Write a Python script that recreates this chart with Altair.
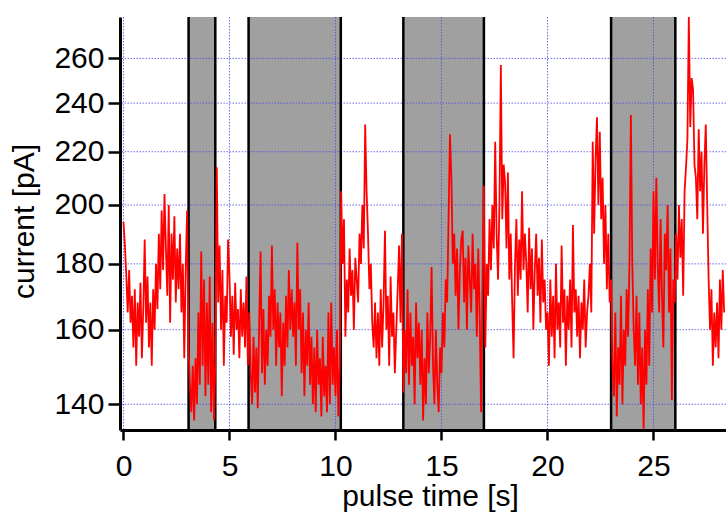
import altair as alt
import pandas as pd

# ---- data ----
# current trace in pA, sampled 15 times per second, one row per second
current_pA = [
    194, 186, 176, 165, 178, 162, 170, 155, 172, 150, 168, 158, 174, 152, 166,
    188, 162, 176, 155, 168, 150, 172, 160, 180, 166, 190, 172, 198, 178, 204,
    185, 170, 200, 162, 190, 175, 196, 168, 185, 172, 190, 165, 180, 152, 178,
    198, 155, 145, 138, 150, 136, 152, 140, 165, 145, 184, 150, 175, 142, 168,
    145, 176, 138, 162, 136, 152, 214, 168, 186, 160, 178, 150, 170, 162, 188,
    176, 158, 170, 153, 174, 160, 166, 152, 172, 158, 168, 155, 176, 150, 165,
    148, 140, 158, 143, 155, 139, 162, 184, 148, 166, 145, 160, 150, 170, 158,
    186, 160, 172, 150, 168, 155, 165, 142, 162, 150, 170, 155, 178, 160, 172,
    158, 168, 150, 187, 160, 172, 148, 165, 142, 160, 150, 168, 145, 158, 140,
    155, 138, 160, 145, 152, 137, 158, 142, 150, 138, 165, 140, 168, 145, 155,
    142, 160, 137, 150, 205, 180, 195, 158, 175, 165, 185, 170, 178, 160, 182,
    175, 168, 190, 180, 200, 185, 231, 205, 190, 172, 180, 162, 155, 168, 152,
    165, 150, 172, 155, 168, 191, 160, 170, 150, 176, 158, 165, 148, 160, 172,
    186, 162, 190, 143, 160, 148, 172, 145, 165, 150, 158, 140, 168, 152, 162,
    145, 160, 136, 152, 140, 165, 148, 158, 179, 150, 140, 160, 145, 138, 155,
    148, 165, 155, 175, 168, 195, 227, 210, 180, 190, 170, 185, 160, 178, 188,
    191, 168, 182, 160, 186, 175, 165, 190, 172, 180, 158, 185, 165, 138, 175,
    207, 155, 180, 170, 195, 178, 200, 185, 224, 190, 175, 200, 257, 195, 215,
    208, 185, 212, 175, 190, 168, 152, 180, 195, 170, 188, 175, 205, 178, 190,
    180, 165, 192, 172, 185, 160, 178, 190, 170, 182, 162, 188, 168, 175, 160,
    165, 150, 175, 158, 170, 152, 180, 160, 168, 155, 186, 162, 172, 150, 170,
    160, 175, 155, 193, 165, 172, 158, 170, 152, 168, 160, 175, 155, 165, 170,
    180, 165, 224, 190, 217, 234, 200, 228, 195, 210, 180, 200, 172, 190, 168,
    175, 150, 142, 165, 137, 155, 145, 170, 140, 160, 150, 172, 158, 180, 235,
    180, 160, 150, 170, 145, 165, 140, 155, 134, 160, 145, 172, 150, 185, 165,
    205, 175, 210, 180, 165, 195, 170, 155, 190, 178, 200, 165, 185, 141, 175,
    168, 190, 175, 200, 182, 195, 170, 205, 214, 225, 280, 230, 251, 246, 215,
    210, 195, 229, 205, 220, 190, 215, 231, 200, 175, 160, 172, 150, 165, 155,
    168, 152, 175, 160, 178, 165,
]
samples_per_second = 15
time_s = [i / samples_per_second for i in range(len(current_pA))]

band_start = [3.07, 5.9, 13.2, 23.0]
band_end = [4.33, 10.25, 17.0, 26.03]

x_ticks = [0, 5, 10, 15, 20, 25]
y_ticks = [140, 160, 180, 200, 220, 240, 260]

x_domain = [-0.165, 28.42]
y_domain = [133.7, 280]

# ---- tables ----
trace = pd.DataFrame({"t": time_s, "current": current_pA})
bands = pd.DataFrame({"t": band_start, "end": band_end})
edges = pd.DataFrame({"t": band_start + band_end})
xgrid = pd.DataFrame({"t": x_ticks})
ygrid = pd.DataFrame({"current": y_ticks})

FONT = "Liberation Sans"
x_scale = alt.Scale(domain=x_domain, nice=False, zero=False)
y_scale = alt.Scale(type="log", domain=y_domain, nice=False)

x_axis = alt.Axis(
    values=x_ticks, format="d", title="pulse time [s]", grid=False,
    tickSize=10, tickWidth=2.5, tickColor="black",
    domainColor="black", domainWidth=3,
    labelFont=FONT, labelFontSize=30, labelColor="black", labelPadding=11,
    labelFlush=False, labelOverlap=False,
    titleFont=FONT, titleFontSize=30, titleFontWeight="normal", titleColor="black",
    titleX=310, titleY=75, titleBaseline="alphabetic", titleAlign="center",
    zindex=1,
)
y_axis = alt.Axis(
    values=y_ticks, format="d", title="current [pA]", grid=False,
    tickSize=12, tickWidth=2.5, tickColor="black",
    domainColor="black", domainWidth=3,
    labelFont=FONT, labelFontSize=30, labelColor="black", labelPadding=4,
    labelOverlap=False,
    titleFont=FONT, titleFontSize=30, titleFontWeight="normal", titleColor="black",
    titleX=-87, titleY=204, titleAngle=270, titleBaseline="alphabetic",
    titleAlign="center",
    zindex=1,
)

X = alt.X("t:Q", scale=x_scale, axis=x_axis)
Y = alt.Y("current:Q", scale=y_scale, axis=y_axis)

band_layer = alt.Chart(bands).mark_rect(color="#a0a0a0").encode(
    x=X, x2="end:Q"
)
xgrid_layer = alt.Chart(xgrid).mark_rule(
    color="#4a4aee", strokeDash=[1.5, 1.5], strokeWidth=1, opacity=0.8
).encode(x=X)
ygrid_layer = alt.Chart(ygrid).mark_rule(
    color="#4a4aee", strokeDash=[1.5, 1.5], strokeWidth=1, opacity=0.8
).encode(y=Y)
edge_layer = alt.Chart(edges).mark_rule(color="black", strokeWidth=2.5).encode(x=X)
line_layer = alt.Chart(trace).mark_line(
    color="#ff0000", strokeWidth=1.8, clip=True
).encode(x=X, y=Y)

chart = (
    alt.layer(band_layer, xgrid_layer, ygrid_layer, edge_layer, line_layer)
    .properties(
        width=606, height=413,
        autosize="none",
        padding={"left": 120, "top": 17, "right": 0, "bottom": 84},
        background="white",
    )
    .configure_view(stroke=None)
)

chart.save("out.html", embed_options={"renderer": "svg", "actions": False})
